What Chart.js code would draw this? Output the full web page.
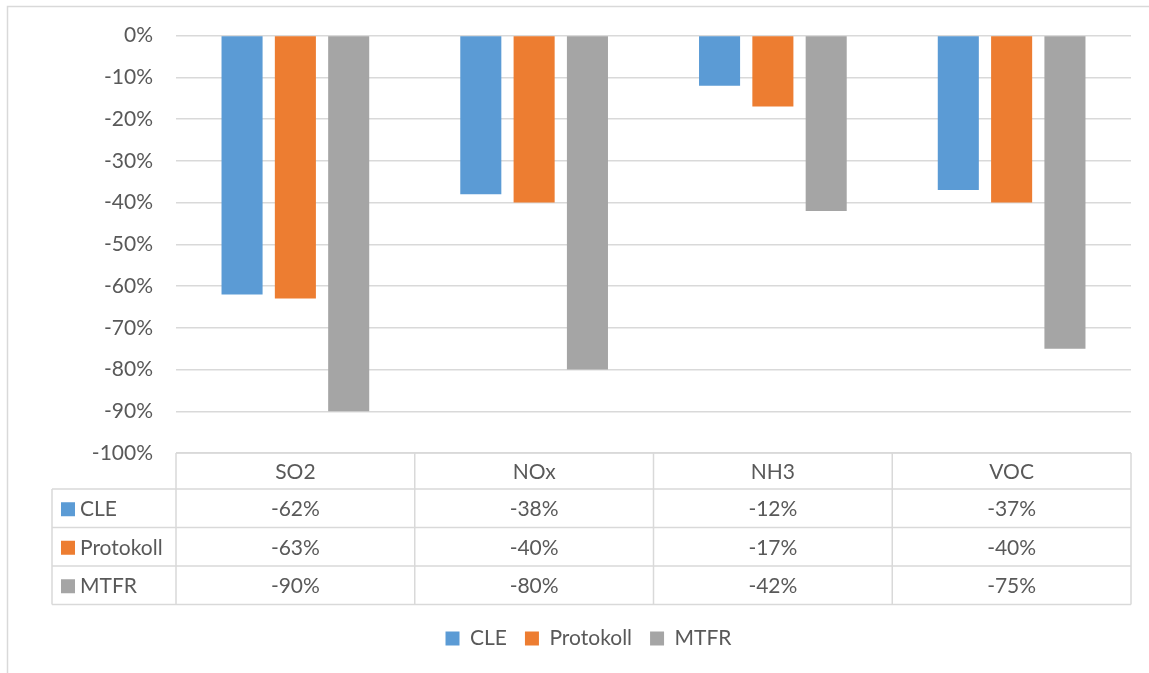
<!DOCTYPE html>
<html>
<head>
<meta charset="utf-8">
<script src="https://cdn.jsdelivr.net/npm/chart.js@4/dist/chart.umd.min.js"></script>
<style>
  html, body { margin: 0; padding: 0; background: #fff; }
  canvas { display: block; }
</style>
</head>
<body>
<canvas id="emissionChart" width="1149" height="673"></canvas>
<script>
const categories = ['SO2', 'NOx', 'NH3', 'VOC'];
const cleValues = [-0.62, -0.38, -0.12, -0.37];
const protokollValues = [-0.63, -0.40, -0.17, -0.40];
const mtfrValues = [-0.90, -0.80, -0.42, -0.75];
const seriesNames = ['CLE', 'Protokoll', 'MTFR'];
const seriesColors = ['#5B9BD5', '#ED7D31', '#A5A5A5'];

const FONT = 'Lato, "Liberation Sans", sans-serif';
const TEXT = '#595959';
const GRID = '#D9D9D9';

function pct(v) { return Math.round(v * 100) + '%'; }

// draws the Excel-style data table under the plot
const dataTable = {
    id: 'dataTable',
    beforeDraw(chart) {
        const ctx = chart.ctx;
        ctx.save();
        ctx.strokeStyle = GRID;
        ctx.lineWidth = 1.5;
        ctx.beginPath();
        ctx.moveTo(7.5, chart.height);
        ctx.lineTo(7.5, 6.5);
        ctx.lineTo(chart.width, 6.5);
        ctx.stroke();
        ctx.restore();
    },
    afterDraw(chart) {
        const ctx = chart.ctx;
        const area = chart.chartArea;
        const x = chart.scales.x;
        const top = area.bottom;
        const headerH = 36;
        const rowH = 38.5;
        const tableLeft = 52;
        const bottom = top + headerH + rowH * seriesNames.length;
        const catW = (area.right - area.left) / categories.length;
        const edges = categories.map((c, i) => x.getPixelForValue(i) - catW / 2);
        edges.push(area.right);

        ctx.save();
        ctx.strokeStyle = GRID;
        ctx.lineWidth = 1.5;
        ctx.beginPath();
        ctx.moveTo(area.left, top);
        ctx.lineTo(area.right, top);
        for (let r = 0; r <= seriesNames.length; r++) {
            const y = top + headerH + rowH * r;
            ctx.moveTo(tableLeft, y);
            ctx.lineTo(area.right, y);
        }
        edges.forEach(e => {
            ctx.moveTo(e, top);
            ctx.lineTo(e, bottom);
        });
        ctx.moveTo(tableLeft, top + headerH);
        ctx.lineTo(tableLeft, bottom);
        ctx.stroke();

        ctx.fillStyle = TEXT;
        ctx.font = '21px ' + FONT;
        ctx.textBaseline = 'middle';
        ctx.textAlign = 'center';
        categories.forEach((c, i) => {
            ctx.fillText(c, x.getPixelForValue(i), top + headerH / 2 + 1);
        });

        chart.data.datasets.forEach((ds, d) => {
            const cy = top + headerH + rowH * d + rowH / 2 + 1;
            ctx.fillStyle = ds.backgroundColor;
            ctx.fillRect(tableLeft + 9, cy - 7, 14, 14);
            ctx.fillStyle = TEXT;
            ctx.textAlign = 'left';
            ctx.fillText(ds.label, tableLeft + 28, cy);
            ctx.textAlign = 'center';
            ds.data.forEach((v, i) => {
                ctx.fillText(pct(v), x.getPixelForValue(i), cy);
            });
        });
        ctx.restore();
    }
};

const ctx = document.getElementById('emissionChart');
new Chart(ctx, {
    type: 'bar',
    data: {
        labels: categories,
        datasets: [
            { label: seriesNames[0], data: cleValues, backgroundColor: seriesColors[0] },
            { label: seriesNames[1], data: protokollValues, backgroundColor: seriesColors[1] },
            { label: seriesNames[2], data: mtfrValues, backgroundColor: seriesColors[2] }
        ]
    },
    options: {
        responsive: false,
        animation: false,
        layout: {
            padding: { top: 35, left: 46, right: 18, bottom: 14 }
        },
        datasets: {
            bar: { categoryPercentage: 0.67, barPercentage: 0.77 }
        },
        scales: {
            x: {
                grid: { display: false },
                border: { display: false },
                ticks: { display: false },
                afterFit: scale => { scale.height = 157; }
            },
            y: {
                min: -1,
                max: 0,
                afterFit: scale => { scale.width = 130; },
                ticks: {
                    stepSize: 0.1,
                    padding: 23,
                    color: TEXT,
                    font: { family: FONT, size: 21 },
                    callback: v => pct(v)
                },
                grid: { color: GRID, lineWidth: 1.5, drawTicks: false },
                border: { display: false }
            }
        },
        plugins: {
            legend: {
                position: 'bottom',
                labels: {
                    boxWidth: 14,
                    boxHeight: 14,
                    padding: 18,
                    color: TEXT,
                    font: { family: FONT, size: 21 }
                }
            },
            tooltip: { enabled: false }
        }
    },
    plugins: [dataTable]
});
</script>
</body>
</html>
